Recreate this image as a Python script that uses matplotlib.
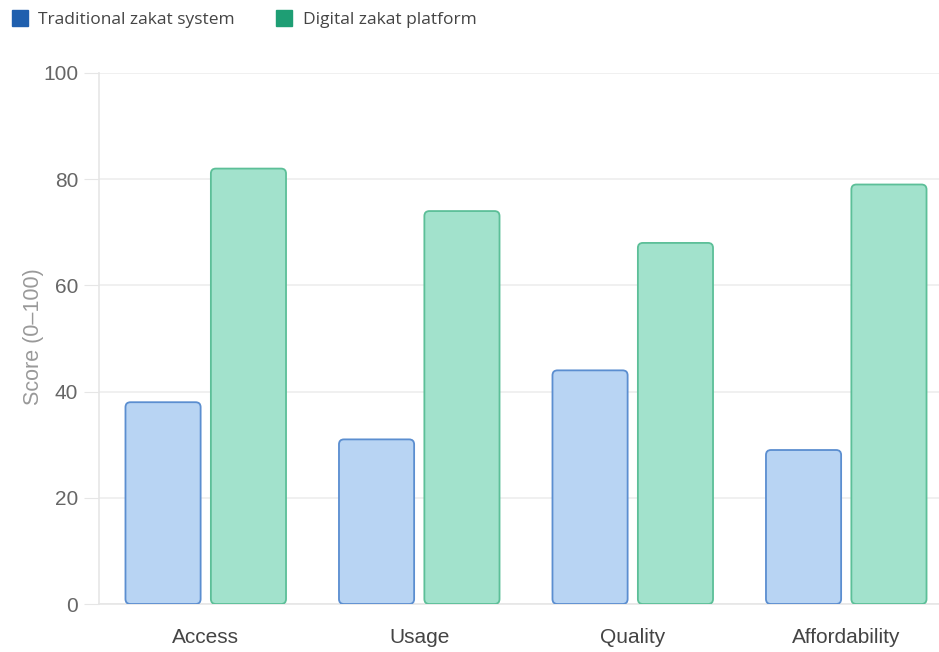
import numpy as np
import matplotlib.pyplot as plt
from matplotlib.patches import FancyBboxPatch
from matplotlib.lines import Line2D

# data
categories = ["Access", "Usage", "Quality", "Affordability"]
traditional = [38, 31, 44, 29]
digital = [82, 74, 68, 79]
series_names = ["Traditional zakat system", "Digital zakat platform"]

W, H = 939, 652
fig = plt.figure(figsize=(W / 100, H / 100), dpi=100)
ax = fig.add_axes([99 / W, 48 / H, (953 - 99) / W, 531 / H])

x = np.arange(len(categories))
bw = 0.352
off = 0.2
b1 = ax.bar(x - off, traditional, bw, color="#b8d4f3", edgecolor="#5b8ed0", linewidth=1.3)
b2 = ax.bar(x + off, digital, bw, color="#a2e2cc", edgecolor="#5cbf98", linewidth=1.3)

# swap plain bars for rounded ones
px_x = 213.5
px_y = 5.31
r = 5 / px_x
for bars in (b1, b2):
    for p in bars:
        bx, by = p.get_x(), p.get_y()
        fb = FancyBboxPatch((bx, by), p.get_width(), p.get_height(),
                            boxstyle=f"round,pad=0,rounding_size={r}",
                            mutation_aspect=px_x / px_y,
                            facecolor=p.get_facecolor(), edgecolor=p.get_edgecolor(),
                            linewidth=1.3, zorder=3)
        p.set_visible(False)
        ax.add_patch(fb)

ax.set_xlim(-0.5, 3.5)
ax.set_ylim(0, 100)
ax.set_yticks([0, 20, 40, 60, 80, 100])
ax.set_xticks(x)
ax.set_xticklabels(categories, fontsize=15, color="#444444", family="Liberation Sans")
ax.tick_params(axis="x", length=0, pad=17)
ax.tick_params(axis="y", length=11, color="#e6e6e6", labelsize=15, labelcolor="#666666", pad=4)
for lbl in ax.get_yticklabels():
    lbl.set_family("Liberation Sans")
ax.grid(axis="y", color="#eeeeee", linewidth=1.2, zorder=0)
ax.set_axisbelow(True)
for s in ["top", "right"]:
    ax.spines[s].set_visible(False)
ax.spines["left"].set_color("#e6e6e6")
ax.spines["bottom"].set_color("#e6e6e6")
ax.spines["left"].set_linewidth(1.2)
ax.spines["bottom"].set_linewidth(1.2)
ax.set_ylabel("Score (0–100)", fontsize=15.5, color="#999999", family="Liberation Sans")
ax.yaxis.set_label_coords(-0.064, 0.503)

handles = [Line2D([], [], marker="s", linestyle="none", markersize=11, color="#1f5fae"),
           Line2D([], [], marker="s", linestyle="none", markersize=11, color="#1e9e74")]
fig.legend(handles, series_names, loc="upper left", bbox_to_anchor=(0.0, 1.0), ncol=2,
           frameon=False, handlelength=0.9, handletextpad=0.6,
           columnspacing=2.4, borderaxespad=0.3, prop={"family": "Open Sans", "size": 12.5})
for t in fig.legends[0].get_texts():
    t.set_color("#444444")

fig.savefig("out.png", dpi=100)
